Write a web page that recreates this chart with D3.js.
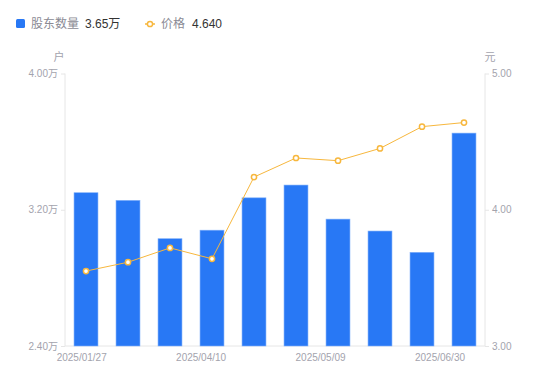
<!DOCTYPE html>
<html>
<head>
<meta charset="utf-8">
<script src="https://cdn.jsdelivr.net/npm/d3@7"></script>
<style>
  body { margin: 0; background: #fff; }
  svg text { font-family: "Liberation Sans", "Noto Sans CJK SC", sans-serif; }
</style>
</head>
<body>
<script>
// holders (万户) and price (元) per report date
const holders = [3.30, 3.255, 3.03, 3.08, 3.27, 3.345, 3.145, 3.075, 2.95, 3.65];
const prices = [3.55, 3.615, 3.72, 3.64, 4.24, 4.38, 4.36, 4.45, 4.61, 4.64];
const xTickLabels = ['2025/01/27', '2025/04/10', '2025/05/09', '2025/06/30'];
const leftTicks = [2.4, 3.2, 4.0];
const rightTicks = [3, 4, 5];

const W = 550, H = 381;
const margin = {top: 73.5, right: 65, bottom: 35, left: 65};
const x0 = margin.left, x1 = W - margin.right;
const y0 = H - margin.bottom, y1 = margin.top;

const axisColor = '#e6e6e6';
const textColor = '#a3a3ad';
const blue = '#2878f5';
const orange = '#f7b73d';

const svg = d3.select('body').append('svg')
  .attr('width', W)
  .attr('height', H);

const xScale = d3.scaleBand()
  .domain(d3.range(holders.length))
  .range([x0, x1])
  .paddingInner(0.43)
  .paddingOuter(0.215);
const yLeft = d3.scaleLinear().domain([2.4, 4.0]).range([y0, y1]);
const yRight = d3.scaleLinear().domain([3, 5]).range([y0, y1]);
// tick labels are spread evenly, not on the bars
const xLabelScale = d3.scalePoint()
  .domain(xTickLabels)
  .range([x0 + 16.7, x1 - 45]);

// left axis
const gl = svg.append('g').attr('transform', `translate(${x0},0)`)
  .call(d3.axisLeft(yLeft).tickValues(leftTicks).tickSize(4).tickPadding(3)
    .tickFormat(d => d3.format('.2f')(d) + '万'));
const gr = svg.append('g').attr('transform', `translate(${x1},0)`)
  .call(d3.axisRight(yRight).tickValues(rightTicks).tickSize(4).tickPadding(3)
    .tickFormat(d3.format('.2f')));
[gl, gr].forEach(g => {
  g.select('.domain').remove();
  g.selectAll('line').attr('stroke', axisColor);
  g.selectAll('text').attr('fill', textColor).style('font-size', '10px');
});
svg.append('line').attr('x1', x0).attr('x2', x0).attr('y1', y1).attr('y2', y0)
  .attr('stroke', axisColor);
svg.append('line').attr('x1', x1).attr('x2', x1).attr('y1', y1).attr('y2', y0)
  .attr('stroke', axisColor);

// bottom axis
svg.append('line').attr('x1', x0).attr('x2', x1).attr('y1', y0).attr('y2', y0)
  .attr('stroke', axisColor);
svg.append('g').selectAll('text')
  .data(xTickLabels)
  .enter().append('text')
    .attr('x', d => xLabelScale(d))
    .attr('y', y0 + 15)
    .attr('text-anchor', 'middle')
    .attr('fill', textColor)
    .style('font-size', '10px')
    .text(d => d);

// unit labels
svg.append('text').attr('x', x0 - 6).attr('y', y1 - 13).attr('text-anchor', 'middle')
  .attr('fill', textColor).style('font-size', '11px').text('户');
svg.append('text').attr('x', x1 + 5).attr('y', y1 - 13).attr('text-anchor', 'middle')
  .attr('fill', textColor).style('font-size', '11px').text('元');

// bars
svg.append('g').selectAll('rect')
  .data(holders)
  .enter().append('rect')
    .attr('x', (d, i) => xScale(i))
    .attr('width', xScale.bandwidth())
    .attr('y', d => yLeft(d))
    .attr('height', d => y0 - yLeft(d))
    .attr('fill', blue)
    .attr('stroke', '#7fb0fa')
    .attr('stroke-width', 0.6);

// price line
const cx = i => xScale(i) + xScale.bandwidth() / 2;
svg.append('path')
  .datum(prices)
  .attr('d', d3.line().x((d, i) => cx(i)).y(d => yRight(d)))
  .attr('fill', 'none')
  .attr('stroke', orange)
  .attr('stroke-width', 1);
svg.append('g').selectAll('circle')
  .data(prices)
  .enter().append('circle')
    .attr('cx', (d, i) => cx(i))
    .attr('cy', d => yRight(d))
    .attr('r', 2.6)
    .attr('fill', '#fff')
    .attr('stroke', orange)
    .attr('stroke-width', 1.5);

// legend
const lg = svg.append('g');
lg.append('rect').attr('x', 16).attr('y', 19).attr('width', 9).attr('height', 9)
  .attr('rx', 1.5).attr('fill', blue);
lg.append('text').attr('x', 31).attr('y', 28).attr('fill', '#8a8a94')
  .style('font-size', '12px').text('股东数量');
lg.append('text').attr('x', 85).attr('y', 28).attr('fill', '#333')
  .style('font-size', '12px').text(d3.format('.2f')(holders[holders.length - 1]) + '万');
lg.append('line').attr('x1', 145).attr('x2', 155).attr('y1', 24).attr('y2', 24)
  .attr('stroke', orange).attr('stroke-width', 1.5);
lg.append('circle').attr('cx', 150).attr('cy', 24).attr('r', 2.6)
  .attr('fill', '#fff').attr('stroke', orange).attr('stroke-width', 1.5);
lg.append('text').attr('x', 161).attr('y', 28).attr('fill', '#8a8a94')
  .style('font-size', '12px').text('价格');
lg.append('text').attr('x', 192).attr('y', 28).attr('fill', '#333')
  .style('font-size', '12px').text(d3.format('.3f')(prices[prices.length - 1]));
</script>
</body>
</html>
